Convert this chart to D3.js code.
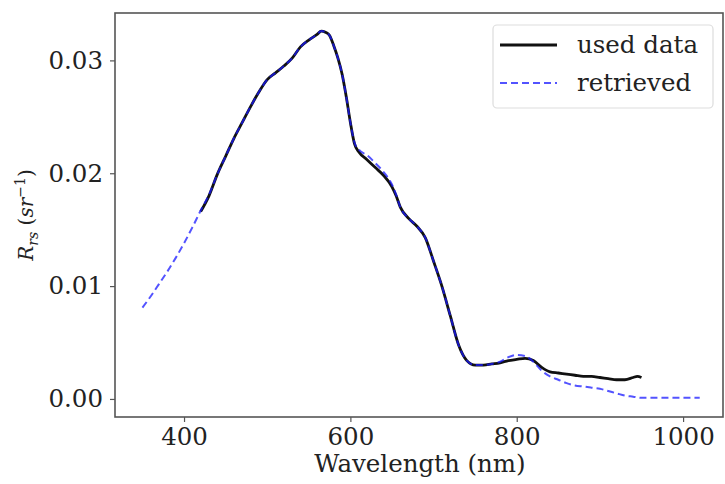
<!DOCTYPE html>
<html>
<head>
<meta charset="utf-8">
<script src="https://cdn.jsdelivr.net/npm/d3@7"></script>
<style>
  html, body { margin: 0; padding: 0; background: #fff; }
  svg { display: block; }
  text { font-family: "DejaVu Serif", serif; fill: #222; }
</style>
</head>
<body>
<svg id="chart" width="725" height="484"></svg>
<script>
// Measured reflectance spectrum (used in the inversion)
const usedWavelength = [420, 430, 440, 450, 460, 470, 480, 490, 500, 510, 520, 530, 540, 550, 560, 565, 570, 575, 580, 585, 590, 595, 600, 605, 610, 620, 630, 640, 650, 655, 660, 670, 680, 690, 700, 710, 720, 730, 740, 750, 760, 770, 780, 790, 800, 810, 820, 830, 840, 850, 860, 870, 880, 890, 900, 910, 920, 930, 940, 945, 950];
const usedRrs = [0.0166, 0.0180, 0.0199, 0.0215, 0.0231, 0.0245, 0.0259, 0.0272, 0.0283, 0.0289, 0.0295, 0.0302, 0.0312, 0.0318, 0.0323, 0.0326, 0.0325, 0.0322, 0.0313, 0.0302, 0.0288, 0.0268, 0.0245, 0.0226, 0.0219, 0.0212, 0.0205, 0.0198, 0.0188, 0.0180, 0.0170, 0.0160, 0.0153, 0.0143, 0.0122, 0.0100, 0.0074, 0.0048, 0.0034, 0.0030, 0.0030, 0.0031, 0.0032, 0.0034, 0.0035, 0.0036, 0.0034, 0.0028, 0.0024, 0.0023, 0.0022, 0.0021, 0.0020, 0.0020, 0.0019, 0.0018, 0.0017, 0.0017, 0.0019, 0.0020, 0.0019];

// Modelled (retrieved) spectrum
const retrievedWavelength = [350, 360, 370, 380, 390, 400, 410, 420, 430, 440, 450, 460, 470, 480, 490, 500, 510, 520, 530, 540, 550, 560, 565, 570, 575, 580, 585, 590, 595, 600, 605, 610, 620, 630, 640, 650, 655, 660, 670, 680, 690, 700, 710, 720, 730, 740, 750, 760, 770, 780, 790, 800, 810, 820, 830, 840, 850, 860, 870, 880, 890, 900, 910, 920, 930, 940, 950, 970, 1000, 1020];
const retrievedRrs = [0.0081, 0.0091, 0.0102, 0.0113, 0.0125, 0.0138, 0.0152, 0.0167, 0.0181, 0.0199, 0.0215, 0.0231, 0.0245, 0.0259, 0.0272, 0.0283, 0.0289, 0.0295, 0.0302, 0.0312, 0.0318, 0.0323, 0.0326, 0.0325, 0.0322, 0.0313, 0.0302, 0.0288, 0.0268, 0.0245, 0.0227, 0.0221, 0.0216, 0.0209, 0.0201, 0.0190, 0.0181, 0.0170, 0.0160, 0.0153, 0.0143, 0.0122, 0.0100, 0.0074, 0.0048, 0.0034, 0.0030, 0.0030, 0.0031, 0.0033, 0.0037, 0.0039, 0.0038, 0.0033, 0.0025, 0.0020, 0.0017, 0.0014, 0.0012, 0.0011, 0.0010, 0.0009, 0.0007, 0.0005, 0.0003, 0.0002, 0.0001, 0.0001, 0.0001, 0.0001];

const xTicks = [400, 600, 800, 1000];
const yTicks = [0.00, 0.01, 0.02, 0.03];
const seriesNames = ["used data", "retrieved"];

const svg = d3.select("#chart");
const plot = { left: 115, right: 723, top: 13, bottom: 417 };
const fontSize = 24.5;

const x = d3.scaleLinear().domain([317, 1048]).range([plot.left, plot.right]);
const y = d3.scaleLinear().domain([-0.0016, 0.0342]).range([plot.bottom, plot.top]);

// Axes
const xAxis = svg.append("g")
  .attr("transform", `translate(0,${plot.bottom})`)
  .call(d3.axisBottom(x).tickValues(xTicks).tickFormat(d3.format("d")).tickSize(5).tickPadding(6));
const yAxis = svg.append("g")
  .attr("transform", `translate(${plot.left},0)`)
  .call(d3.axisLeft(y).tickValues(yTicks).tickFormat(d3.format(".2f")).tickSize(5).tickPadding(7));

[xAxis, yAxis].forEach(g => {
  g.select(".domain").remove();
  g.selectAll(".tick line").attr("stroke", "#555").attr("stroke-width", 1.2);
  g.selectAll(".tick text")
    .attr("font-family", "DejaVu Serif, serif")
    .attr("font-size", fontSize)
    .attr("fill", "#2a2a2a");
});

// Plot frame
svg.append("rect")
  .attr("x", plot.left).attr("y", plot.top)
  .attr("width", plot.right - plot.left).attr("height", plot.bottom - plot.top)
  .attr("fill", "none").attr("stroke", "#555").attr("stroke-width", 1.6);

// Lines
const line = d3.line()
  .x(d => x(d[0]))
  .y(d => y(d[1]))
  .curve(d3.curveMonotoneX);

const usedData = usedWavelength.map((w, i) => [w, usedRrs[i]]);
const retrievedData = retrievedWavelength.map((w, i) => [w, retrievedRrs[i]]);

svg.append("path")
  .datum(usedData)
  .attr("d", line)
  .attr("fill", "none")
  .attr("stroke", "#111")
  .attr("stroke-width", 2.8)
  .attr("stroke-linejoin", "round");

svg.append("path")
  .datum(retrievedData)
  .attr("d", line)
  .attr("fill", "none")
  .attr("stroke", "#1a1aff")
  .attr("stroke-opacity", 0.75)
  .attr("stroke-width", 2)
  .attr("stroke-dasharray", "7,4");

// Legend
const legend = svg.append("g");
legend.append("rect")
  .attr("x", 493).attr("y", 25).attr("width", 220).attr("height", 83)
  .attr("rx", 4).attr("fill", "#fff").attr("fill-opacity", 0.85)
  .attr("stroke", "#ddd").attr("stroke-width", 1.2);

const legendItems = [
  { name: seriesNames[0], y: 45, stroke: "#111", width: 2.8, dash: null, opacity: 1 },
  { name: seriesNames[1], y: 83, stroke: "#1a1aff", width: 2, dash: "7,4", opacity: 0.75 }
];
legendItems.forEach(item => {
  legend.append("line")
    .attr("x1", 500).attr("x2", 557)
    .attr("y1", item.y).attr("y2", item.y)
    .attr("stroke", item.stroke)
    .attr("stroke-width", item.width)
    .attr("stroke-opacity", item.opacity)
    .attr("stroke-dasharray", item.dash);
  legend.append("text")
    .attr("x", 577).attr("y", item.y)
    .attr("dy", "0.33em")
    .attr("font-size", fontSize)
    .attr("fill", "#2a2a2a")
    .text(item.name);
});

// Axis titles
svg.append("text")
  .attr("x", (plot.left + plot.right) / 2 + 1)
  .attr("y", 472)
  .attr("text-anchor", "middle")
  .attr("font-size", fontSize)
  .attr("fill", "#2a2a2a")
  .text("Wavelength (nm)");

const yTitle = svg.append("text")
  .attr("transform", `translate(33,${(plot.top + plot.bottom) / 2}) rotate(-90)`)
  .attr("text-anchor", "middle")
  .attr("font-size", 20)
  .attr("fill", "#2a2a2a");
yTitle.append("tspan").attr("font-style", "italic").text("R");
yTitle.append("tspan").attr("font-style", "italic").attr("font-size", 14).attr("dy", 5).text("rs");
yTitle.append("tspan").attr("dy", -5).text(" (");
yTitle.append("tspan").attr("font-style", "italic").text("sr");
yTitle.append("tspan").attr("font-size", 14).attr("dy", -8).text("−1");
yTitle.append("tspan").attr("dy", 8).text(")");
</script>
</body>
</html>
